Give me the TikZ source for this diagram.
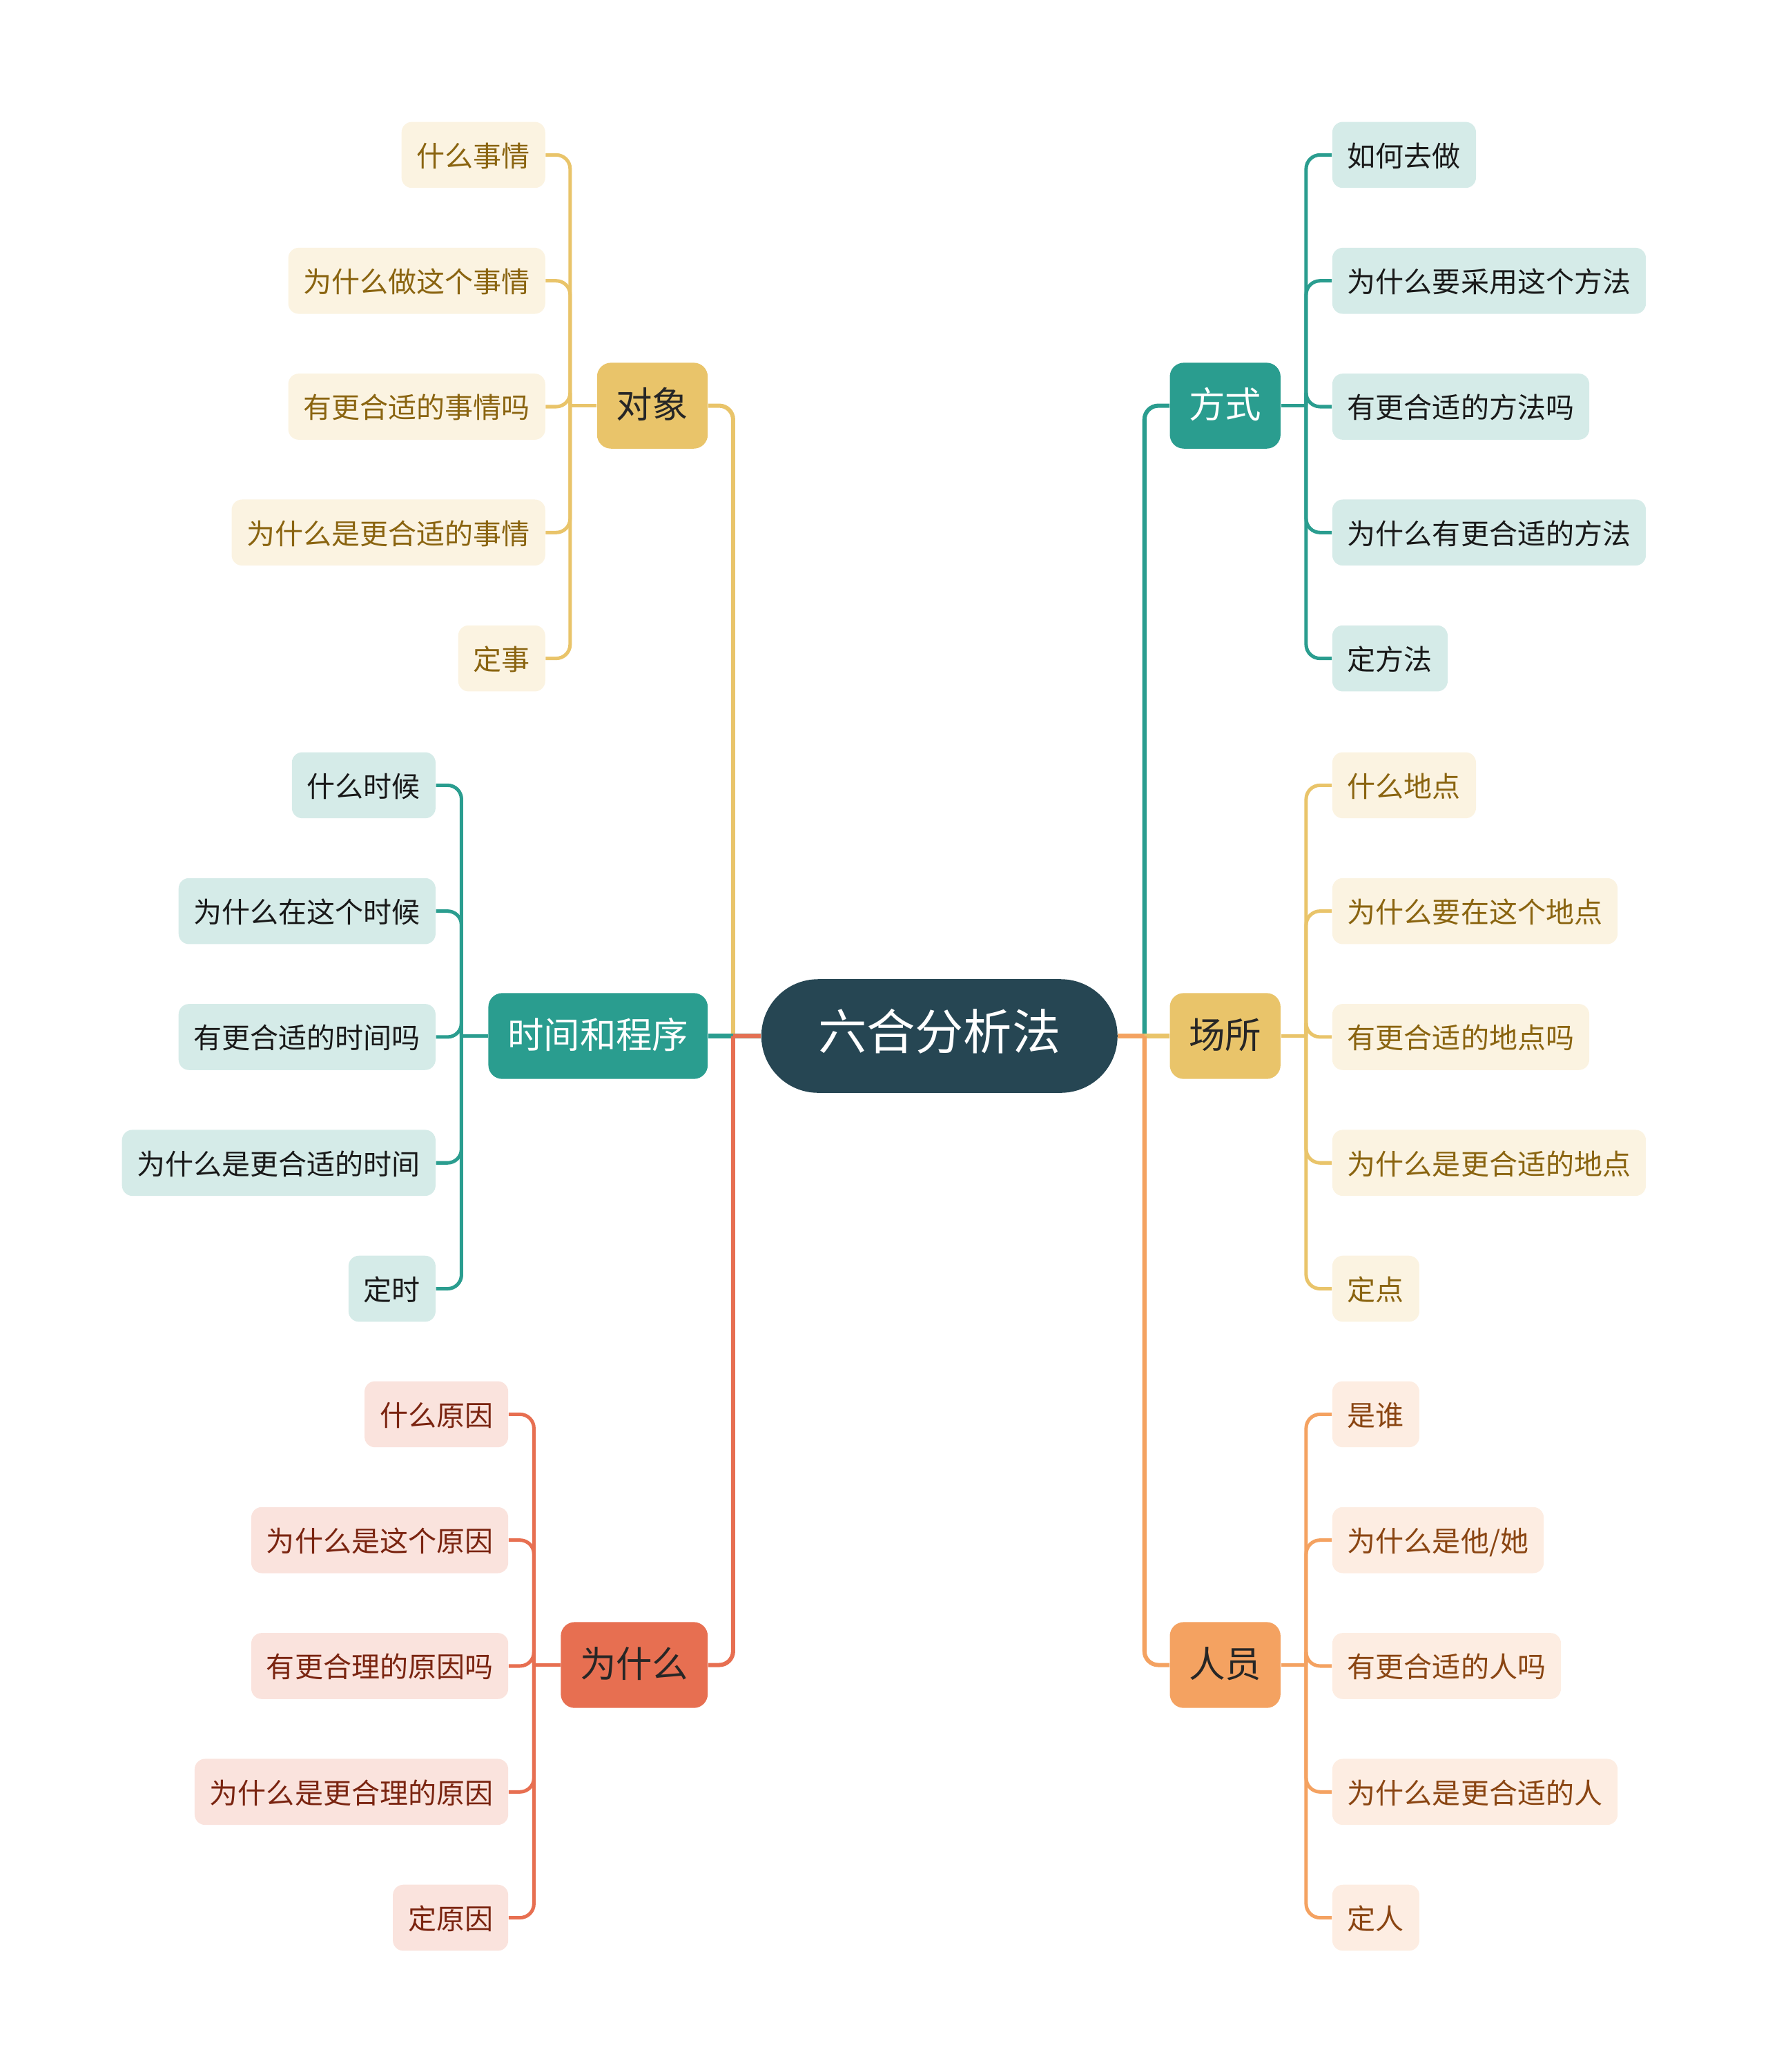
\documentclass[tikz,border=0pt]{standalone}
\usepackage{fontspec}
\setmainfont{Noto Sans CJK SC}
\usetikzlibrary{positioning}

\definecolor{deep}{HTML}{264653}
\definecolor{sea}{HTML}{2A9D8F}
\definecolor{gold}{HTML}{E9C46A}
\definecolor{sand}{HTML}{F4A261}
\definecolor{coral}{HTML}{E76F51}
\definecolor{sea-l}{HTML}{D5EBE8}
\definecolor{gold-l}{HTML}{FBF3E1}
\definecolor{sand-l}{HTML}{FDEDE2}
\definecolor{coral-l}{HTML}{FAE3DD}
\definecolor{gold-t}{HTML}{8A6410}
\definecolor{sand-t}{HTML}{8A4512}
\definecolor{coral-t}{HTML}{7A2410}

\begin{document}
\begin{tikzpicture}[x=0.02cm, y=-0.02cm,
  root/.style={fill=deep, text=white, rounded corners=0.86cm, minimum height=1.72cm,
    inner xsep=0.86cm, inner ysep=0pt, text height=1.2em, text depth=0.04em,
    font=\fontsize{20.9}{24}\selectfont},
  topic/.style={rounded corners=6pt, minimum height=1.3cm, inner xsep=0.29cm, inner ysep=0pt,
    text height=1.1em, text depth=0.06em, text=black!85, font=\fontsize{15.6}{18}\selectfont},
  leaf/.style={rounded corners=4.5pt, minimum height=1cm, inner xsep=0.23cm, inner ysep=0pt,
    text height=1.06em, text depth=0.06em, font=\fontsize{12.2}{14}\selectfont},
  main/.style={line width=1.8pt},
  twig/.style={line width=1.5pt, rounded corners=6pt}]

\useasboundingbox (0,0) rectangle (1338,1568);

\node [root] (root) at (711,784) {六合分析法};

% Hauptzweige
\node [topic, fill=gold, anchor=east] (dx) at (536,307) {对象};
\node [topic, fill=sea, text=white, anchor=east] (sj) at (536,784) {时间和程序};
\node [topic, fill=coral, anchor=east] (wsm) at (536,1260) {为什么};
\node [topic, fill=sea, text=white, anchor=west] (fs) at (885,307) {方式};
\node [topic, fill=gold, anchor=west] (cs) at (885,784) {场所};
\node [topic, fill=sand, anchor=west] (ry) at (885,1260) {人员};

\foreach \t [count=\i] in {什么事情,为什么做这个事情,有更合适的事情吗,为什么是更合适的事情,定事}
  \node [leaf, fill=gold-l, text=gold-t, anchor=east] (dx-\i) at (413,22+95.25*\i) {\t};

\foreach \t [count=\i] in {什么时候,为什么在这个时候,有更合适的时间吗,为什么是更合适的时间,定时}
  \node [leaf, fill=sea-l, text=black!90, anchor=east] (sj-\i) at (330,499+95.25*\i) {\t};

\foreach \t [count=\i] in {什么原因,为什么是这个原因,有更合理的原因吗,为什么是更合理的原因,定原因}
  \node [leaf, fill=coral-l, text=coral-t, anchor=east] (wsm-\i) at (385,975+95.25*\i) {\t};

\foreach \t [count=\i] in {如何去做,为什么要采用这个方法,有更合适的方法吗,为什么有更合适的方法,定方法}
  \node [leaf, fill=sea-l, text=black!90, anchor=west] (fs-\i) at (1008,22+95.25*\i) {\t};

\foreach \t [count=\i] in {什么地点,为什么要在这个地点,有更合适的地点吗,为什么是更合适的地点,定点}
  \node [leaf, fill=gold-l, text=gold-t, anchor=west] (cs-\i) at (1008,499+95.25*\i) {\t};

\foreach \t [count=\i] in {是谁,为什么是他/她,有更合适的人吗,为什么是更合适的人,定人}
  \node [leaf, fill=sand-l, text=sand-t, anchor=west] (ry-\i) at (1008,975+95.25*\i) {\t};

% Verbindungen zur Mitte
\path (root.west) ++(-21,0) coordinate (root-l);
\path (root.east) ++(20,0) coordinate (root-r);

\draw [main, gold] (root.west) -- (root-l) (root-l) [rounded corners=6pt] |- (dx.east);
\draw [main, sea] (root.west) -- (sj.east);
\draw [main, coral] (root.west) -- (root-l) (root-l) [rounded corners=6pt] |- (wsm.east);

\draw [main, sea] (root.east) -- (root-r) (root-r) [rounded corners=6pt] |- (fs.west);
\draw [main, gold] (root.east) -- (cs.west);
\draw [main, sand] (root.east) -- (root-r) (root-r) [rounded corners=6pt] |- (ry.west);

% Blätter
\foreach \b/\c in {dx/gold,sj/sea,wsm/coral} {
  \path (\b.west) ++(-20,0) coordinate (\b-j);
  \draw [twig, \c] (\b.west) -- (\b-j);
  \foreach \i in {1,...,5}
    \draw [twig, \c] (\b-j) |- (\b-\i.east);
}

\foreach \b/\c in {fs/sea,cs/gold,ry/sand} {
  \path (\b.east) ++(19,0) coordinate (\b-j);
  \draw [twig, \c] (\b.east) -- (\b-j);
  \foreach \i in {1,...,5}
    \draw [twig, \c] (\b-j) |- (\b-\i.west);
}

\end{tikzpicture}
\end{document}
